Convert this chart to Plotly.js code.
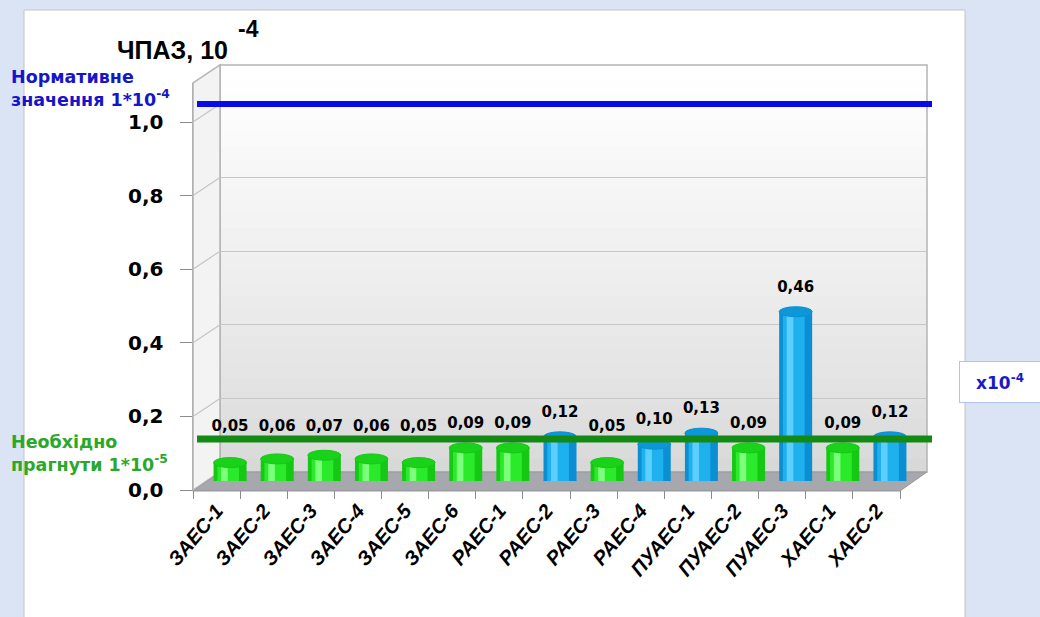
<!DOCTYPE html>
<html>
<head>
<meta charset="utf-8">
<script src="https://cdn.plot.ly/plotly-3.0.1.min.js"></script>
<style>
  html, body { margin: 0; padding: 0; background: #dae4f5; }
  #chart { width: 1040px; height: 617px; }
</style>
</head>
<body>
<div id="chart"></div>
<script>
// ---- data ----
const categories = ['ЗАЕС-1', 'ЗАЕС-2', 'ЗАЕС-3', 'ЗАЕС-4', 'ЗАЕС-5', 'ЗАЕС-6',
                    'РАЕС-1', 'РАЕС-2', 'РАЕС-3', 'РАЕС-4',
                    'ПУАЕС-1', 'ПУАЕС-2', 'ПУАЕС-3', 'ХАЕС-1', 'ХАЕС-2'];
const values = [0.05, 0.06, 0.07, 0.06, 0.05, 0.09, 0.09, 0.12, 0.05, 0.10, 0.13, 0.09, 0.46, 0.09, 0.12];
const yTickVals = [0, 0.2, 0.4, 0.6, 0.8, 1.0];
const normLevel = 1.0;      // Нормативне значення 1*10^-4
const targetLine = 0.09;    // line "Необхідно прагнути 1*10^-5" as drawn
const exceedLevel = 0.10;   // bars at/above this are blue

// ---- geometry helpers (figure pixels -> paper fractions, margins are 0) ----
const W = 1040, H = 617;
const X = p => p / W;
const Y = p => 1 - p / H;
const yTop = 1.106;

const isBlue = values.map(v => v >= exceedLevel - 1e-9);
const baseCol = isBlue.map(b => b ? '#0b8fd2' : '#14c814');
const midCol  = isBlue.map(b => b ? '#1fb0ee' : '#2bea2b');
const hiCol   = isBlue.map(b => b ? '#5ccfff' : '#7dff7d');
const topCol  = isBlue.map(b => b ? '#0c98d8' : '#1bd21b');

const fmt = v => '<b>' + v.toFixed(2).replace('.', ',') + '</b>';

const traces = [
  // invisible anchors for front and back subplots
  { type: 'scatter', x: categories, y: values, xaxis: 'x', yaxis: 'y', mode: 'markers',
    marker: { opacity: 0 }, hoverinfo: 'skip', showlegend: false },
  { type: 'scatter', x: categories, y: values, xaxis: 'x2', yaxis: 'y2', mode: 'markers',
    marker: { opacity: 0 }, hoverinfo: 'skip', showlegend: false },
  // cylinder bodies
  { type: 'bar', x: categories, y: values, xaxis: 'x3', yaxis: 'y3',
    width: 0.70, marker: { color: baseCol, line: { width: 0 } }, hoverinfo: 'skip', showlegend: false },
  { type: 'bar', x: categories, y: values, xaxis: 'x3', yaxis: 'y3',
    width: 0.46, offset: -0.27, marker: { color: midCol, line: { width: 0 } }, hoverinfo: 'skip', showlegend: false },
  { type: 'bar', x: categories, y: values, xaxis: 'x3', yaxis: 'y3',
    width: 0.14, offset: -0.19, marker: { color: hiCol, line: { width: 0 } }, hoverinfo: 'skip', showlegend: false },
  // value labels
  { type: 'scatter', mode: 'text', x: categories, y: values.map(v => Math.max(v, 0.08) + 0.065),
    xaxis: 'x3', yaxis: 'y3', text: values.map(fmt), textposition: 'middle center',
    textfont: { family: 'DejaVu Sans', size: 15, color: '#000' },
    cliponaxis: false, hoverinfo: 'skip', showlegend: false }
];

const shapes = [];
// white panel
shapes.push({ type: 'rect', xref: 'paper', yref: 'paper', x0: X(24), x1: X(965), y0: Y(625), y1: Y(10),
  fillcolor: '#ffffff', line: { color: '#c4c4c4', width: 1 }, layer: 'below' });
// back wall gradient
const nb = 30;
for (let i = 0; i < nb; i++) {
  const t = i / (nb - 1);
  const g = Math.round(216 + (255 - 216) * Math.pow(t, 0.8));
  shapes.push({ type: 'rect', xref: 'x2 domain', yref: 'y2 domain', x0: 0, x1: 1,
    y0: i / nb, y1: (i + 1) / nb + 0.002, fillcolor: `rgb(${g},${g},${g})`, line: { width: 0 }, layer: 'below' });
}
shapes.push({ type: 'rect', xref: 'x2 domain', yref: 'y2 domain', x0: 0, x1: 1, y0: 0, y1: 1,
  line: { color: '#b4b4b4', width: 1.5 }, layer: 'below' });
// left side wall
shapes.push({ type: 'path', xref: 'paper', yref: 'paper',
  path: `M ${X(193)},${Y(490)} L ${X(193)},${Y(83)} L ${X(220)},${Y(65)} L ${X(220)},${Y(472)} Z`,
  fillcolor: '#f3f3f3', line: { color: '#b4b4b4', width: 1.5 }, layer: 'below' });
// side wall grid diagonals
yTickVals.forEach(v => {
  shapes.push({ type: 'line', xref: 'paper', yref: 'y', ysizemode: 'pixel', yanchor: v,
    x0: X(193), x1: X(220), y0: 0, y1: 18, line: { color: '#c4c4c4', width: 1.2 }, layer: 'below' });
});
// floor
shapes.push({ type: 'path', xref: 'paper', yref: 'paper',
  path: `M ${X(193)},${Y(491)} L ${X(900)},${Y(491)} L ${X(927)},${Y(472)} L ${X(220)},${Y(472)} Z`,
  fillcolor: '#a7a7ae', line: { color: '#9a9aa0', width: 1 }, layer: 'below' });
// cylinder bottoms and tops
values.forEach((v, i) => {
  shapes.push({ type: 'circle', xref: 'x3', yref: 'y3', ysizemode: 'pixel', yanchor: 0,
    x0: i - 0.35, x1: i + 0.35, y0: -5, y1: 5, fillcolor: midCol[i], line: { width: 0 }, layer: 'below' });
});
values.forEach((v, i) => {
  shapes.push({ type: 'circle', xref: 'x3', yref: 'y3', ysizemode: 'pixel', yanchor: v,
    x0: i - 0.35, x1: i + 0.35, y0: -5, y1: 5, fillcolor: topCol[i],
    line: { color: baseCol[i], width: 1 }, layer: 'above' });
});
// reference lines
shapes.push({ type: 'line', xref: 'paper', yref: 'y2', x0: X(197), x1: X(932), y0: normLevel, y1: normLevel,
  line: { color: '#0a0ae8', width: 6 }, layer: 'above' });
shapes.push({ type: 'line', xref: 'paper', yref: 'y2', x0: X(197), x1: X(932), y0: targetLine, y1: targetLine,
  line: { color: '#138a13', width: 7 }, layer: 'above' });

const annotations = [
  { xref: 'paper', yref: 'paper', x: X(172), y: Y(50), xanchor: 'center', yanchor: 'middle', showarrow: false,
    text: '<b>ЧПАЗ, 10</b>', font: { family: 'Liberation Sans', size: 25, color: '#000' } },
  { xref: 'paper', yref: 'paper', x: X(248), y: Y(29), xanchor: 'center', yanchor: 'middle', showarrow: false,
    text: '<b>-4</b>', font: { family: 'Liberation Sans', size: 23, color: '#000' } },
  { xref: 'paper', yref: 'paper', x: X(9), y: Y(88), xanchor: 'left', yanchor: 'middle', align: 'left', showarrow: false,
    text: '<b>Нормативне<br>значення 1*10<sup>-4</sup></b>',
    font: { family: 'DejaVu Sans', size: 17.5, color: '#1616c8' } },
  { xref: 'paper', yref: 'paper', x: X(9), y: Y(453), xanchor: 'left', yanchor: 'middle', align: 'left', showarrow: false,
    text: '<b>Необхідно<br>прагнути 1*10<sup>-5</sup></b>',
    font: { family: 'DejaVu Sans', size: 17.5, color: '#2aa82a' } },
  { xref: 'paper', yref: 'paper', x: X(1000), y: Y(382), xanchor: 'center', yanchor: 'middle', showarrow: false,
    text: '<b>x10<sup>-4</sup></b>', width: 70, height: 30, borderpad: 5, bgcolor: '#ffffff',
    bordercolor: '#b3c4ea', borderwidth: 1,
    font: { family: 'DejaVu Sans', size: 17, color: '#1a1ac8' } }
];

const layout = {
  width: W, height: H,
  margin: { l: 0, r: 0, t: 0, b: 0 },
  paper_bgcolor: '#dae4f5',
  plot_bgcolor: 'rgba(0,0,0,0)',
  separators: ', ',
  barmode: 'overlay',
  showlegend: false,
  xaxis: { domain: [X(193), X(900)], anchor: 'y', type: 'category', categoryorder: 'array', categoryarray: categories,
    range: [-0.5, categories.length - 0.5], showgrid: false, zeroline: false,
    showline: true, linecolor: '#9a9aa0', linewidth: 1,
    ticks: 'outside', tickson: 'boundaries', ticklen: 8, tickcolor: '#8c8c8c',
    tickangle: -50, tickfont: { family: 'Liberation Sans', size: 20, weight: 'bold', style: 'italic', color: '#000' },
    fixedrange: true },
  yaxis: { domain: [Y(490), Y(83)], anchor: 'x', range: [0, yTop], tickvals: yTickVals, tickformat: '.1f',
    showgrid: false, zeroline: false, showline: true, linecolor: '#b0b0b0', linewidth: 1.5,
    ticks: 'outside', ticklen: 12, tickcolor: '#8c8c8c', ticklabelstandoff: 12,
    tickfont: { family: 'DejaVu Sans', size: 20, weight: 'bold', color: '#000' }, fixedrange: true },
  xaxis2: { domain: [X(220), X(927)], anchor: 'y2', type: 'category', categoryorder: 'array', categoryarray: categories,
    range: [-0.5, categories.length - 0.5], visible: false, fixedrange: true },
  yaxis2: { domain: [Y(472), Y(65)], anchor: 'x2', range: [0, yTop], tickvals: yTickVals,
    showgrid: true, gridcolor: '#c6c6c6', gridwidth: 1.2, zeroline: false, showline: false,
    showticklabels: false, ticks: '', fixedrange: true },
  xaxis3: { domain: [X(206.5), X(913.5)], anchor: 'y3', type: 'category', categoryorder: 'array', categoryarray: categories,
    range: [-0.5, categories.length - 0.5], visible: false, fixedrange: true },
  yaxis3: { domain: [Y(481), Y(74)], anchor: 'x3', range: [0, yTop], visible: false, fixedrange: true },
  shapes: shapes,
  annotations: annotations
};

Plotly.newPlot('chart', traces, layout, { staticPlot: true, displayModeBar: false });
</script>
</body>
</html>
